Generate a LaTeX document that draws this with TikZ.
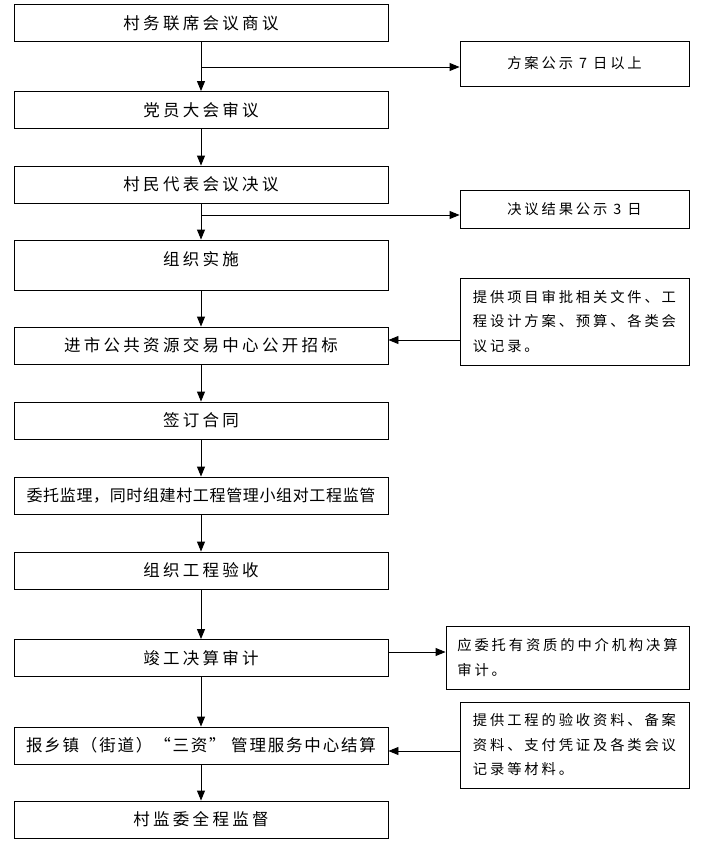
\documentclass[tikz,border=0pt]{standalone}
\usepackage{fontspec}
\setmainfont{Noto Sans CJK SC}
\newfontfamily\cjkmain[LetterSpace=20]{Noto Sans CJK SC}
\newfontfamily\cjkside[LetterSpace=20]{Noto Sans CJK SC}
\usetikzlibrary{arrows.meta}
\begin{document}
\begin{tikzpicture}[x=1pt,y=-1pt,
  mainbox/.style={draw, line width=0.9pt, minimum width=374pt, minimum height=37pt, inner sep=0pt,
    font=\fontsize{16.5}{19}\cjkmain},
  sidebox/.style={draw, line width=0.9pt, inner sep=0pt, align=left,
    font=\fontsize{14.3}{24.5}\cjkside},
  arr/.style={line width=0.9pt, -{Triangle[length=10pt,width=8pt]}},
  ln/.style={line width=0.9pt}]
\useasboundingbox (0,0) rectangle (704,849);
\fill[white] (0,0) rectangle (704,849);

% main column
\node[mainbox] (m1) at (201,23) {村务联席会议商议};
\node[mainbox] (m2) at (201,110) {党员大会审议};
\node[mainbox] (m3) at (201,184.5) {村民代表会议决议};
\node[mainbox, minimum height=50pt, text height=12pt, text depth=11pt] (m4) at (201,265) {组织实施};
\node[mainbox] (m5) at (201,345.5) {进市公共资源交易中心公开招标};
\node[mainbox] (m6) at (201,420.5) {签订合同};
\node[mainbox, font=\fontsize{16}{19}\cjkmain\addfontfeature{LetterSpace=4}] (m7) at (201,495.5) {委托监理，同时组建村工程管理小组对工程监管};
\node[mainbox] (m8) at (201,570.5) {组织工程验收};
\node[mainbox] (m9) at (201,658) {竣工决算审计};
\node[mainbox, font=\fontsize{16.5}{19}\cjkmain\addfontfeature{LetterSpace=11}] (m10) at (201,745.5) {报乡镇（街道）“三资” 管理服务中心结算};
\node[mainbox] (m11) at (201,819.5) {村监委全程监督};

% side boxes
\node[sidebox, minimum width=229pt, minimum height=45pt] (r1) at (574.5,63.5) {方案公示 7 日以上};
\node[sidebox, minimum width=229pt, minimum height=38pt] (r2) at (574.5,209) {决议结果公示 3 日};
\node[sidebox, minimum width=229pt, minimum height=87pt] (r3) at (574.5,321.5) {提供项目审批相关文件、工\\程设计方案、预算、各类会\\议记录。};
\node[sidebox, minimum width=243pt, minimum height=63pt] (r4) at (567.5,657.5) {应委托有资质的中介机构决算\\审计。};
\node[sidebox, minimum width=229pt, minimum height=86pt] (r5) at (574.5,745) {提供工程的验收资料、备案\\资料、支付凭证及各类会议\\记录等材料。};

% main arrows
\draw[arr] (m1) -- (m2);
\draw[arr] (m2) -- (m3);
\draw[arr] (m3) -- (m4);
\draw[arr] (m4) -- (m5);
\draw[arr] (m5) -- (m6);
\draw[arr] (m6) -- (m7);
\draw[arr] (m7) -- (m8);
\draw[arr] (m8) -- (m9);
\draw[arr] (m9) -- (m10);
\draw[arr] (m10) -- (m11);

% side arrows
\coordinate (b1) at (201,67);
\draw[arr] (b1) -- (b1 -| r1.west);
\coordinate (b2) at (201,215);
\draw[arr] (b2) -- (b2 -| r2.west);
\coordinate (b3) at (460,340);
\draw[arr] (b3 -| r3.west) -- (b3 -| m5.east);
\coordinate (b4) at (388,652);
\draw[arr] (b4 -| m9.east) -- (b4 -| r4.west);
\coordinate (b5) at (460,751);
\draw[arr] (b5 -| r5.west) -- (b5 -| m10.east);
\end{tikzpicture}
\end{document}
